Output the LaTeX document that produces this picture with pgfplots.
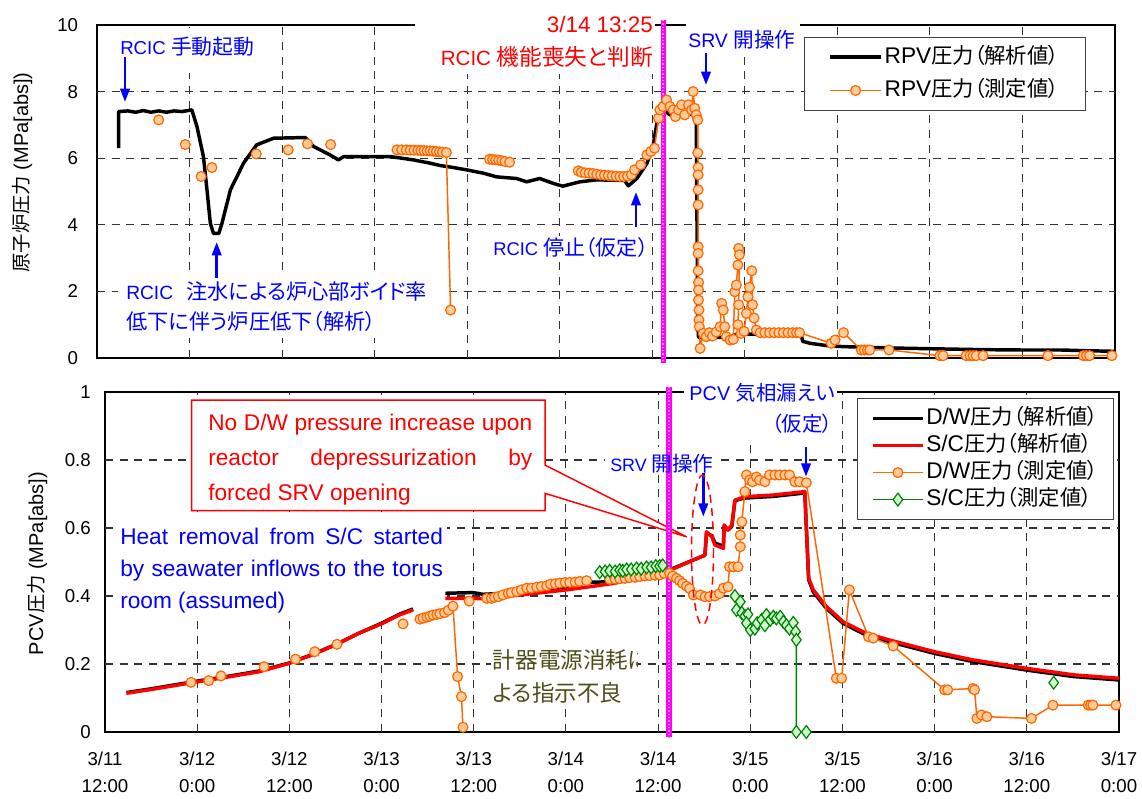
\documentclass[border=0pt]{standalone}
\usepackage{pgfplots}
\pgfplotsset{compat=1.18}
\usepackage{fontspec}
\setmainfont{Liberation Sans}
\newfontfamily\jp[RawFeature=+palt]{Noto Sans CJK JP}
\usetikzlibrary{arrows.meta}
\definecolor{orgL}{RGB}{255,102,0}
\definecolor{orgF}{RGB}{255,204,153}
\definecolor{grnL}{RGB}{0,128,0}
\definecolor{grnF}{RGB}{204,255,204}
\definecolor{mag}{RGB}{255,0,255}
\definecolor{magL}{RGB}{255,150,255}
\definecolor{olivetxt}{RGB}{77,77,26}
\definecolor{gridc}{RGB}{50,50,50}
\newcommand{\fs}[1]{\fontsize{#1}{#1}\selectfont}
\newcommand{\J}[2]{{\jp\fontsize{#1}{#1}\selectfont #2}}
\tikzset{gridl/.style={dash pattern=on 6pt off 5pt, line width=0.8pt, draw=gridc}}

\pgfplotsset{
  mybase/.style={
    scale only axis, clip=false, unbounded coords=jump,
    xmin=0, xmax=132, xtick={0,12,...,132},
    axis line style={line width=1.5pt},
    major tick length=0.1pt,
    tick label style={font=\fontsize{14}{19.7}\selectfont},
    yticklabel style={inner sep=0pt},
    legend cell align=left,
    legend image code/.code={\draw[mark repeat=2,mark phase=2,##1] plot coordinates {(0pt,0pt) (19pt,0pt) (38pt,0pt)};},
  },
  anaK/.style={black, line width=2.6pt, line join=round, mark=none},
  anaR/.style={red, line width=2.6pt, line join=round, mark=none},
  meaO/.style={orgL, line width=1.1pt, mark=*, mark size=3.7pt, mark options={fill=orgF, draw=orgL, line width=0.9pt, solid}},
  meaG/.style={grnL, line width=1pt, mark=diamond*, mark size=4.8pt, mark options={fill=grnF, draw=grnL, line width=0.9pt, solid}},
}

\begin{document}
\begin{tikzpicture}
\useasboundingbox (0pt,0pt) rectangle (856.5pt,599.25pt);

% ================= TOP: RPV pressure =================
\begin{axis}[mybase, at={(72.75pt,330.75pt)}, anchor=south west,
  width=763.5pt, height=249.75pt,
  ymin=0, ymax=10, ytick={0,2,4,6,8,10}, yticklabels={0,2,4,6,8,10},
  xticklabels={}, yticklabel shift=14pt,
  legend style={at={(rel axis cs:0.6945,0.964)}, anchor=north west,
    draw=black!75, line width=0.75pt, fill=white,
    inner xsep=18pt, inner ysep=5pt, row sep=5.5pt, font=\fs{17},
    nodes={inner sep=1.5pt, text height=13pt, text depth=3.5pt}}]
\pgfplotsinvokeforeach{12,24,36,48,60,72,84,96,108,120}{\draw[gridl] (axis cs:#1,0) -- (axis cs:#1,10);}
\pgfplotsinvokeforeach{2,4,6,8}{\draw[gridl] (axis cs:0,#1) -- (axis cs:132,#1);}
\fill[white] (axis cs:2.59,8.56) rectangle (axis cs:21.13,9.91);
\fill[white] (axis cs:2.72,2.52) rectangle (axis cs:45.37,0.60);
\fill[white] (axis cs:41.2,10.51) rectangle (axis cs:72.3,8.53);
\fill[white] (axis cs:76.35,10.09) rectangle (axis cs:91.1,9.07);
\fill[white] (axis cs:50.9,3.66) rectangle (axis cs:71.9,2.88);

\addplot[anaK] coordinates {
(2.8,6.3)(2.8,7.4)(4,7.42)(5,7.38)(6,7.43)(7,7.38)(8,7.42)(9,7.38)(10,7.42)(11,7.4)(12.3,7.45)
(12.96,6.95)(13.8,6.05)(14.26,5.05)(14.7,4.04)(15.1,3.74)(15.8,3.74)(16.2,4.04)(17.3,5.05)
(19.0,5.85)(20.7,6.40)(22.9,6.60)(27.0,6.62)(28.1,6.35)(30.2,6.10)(31.3,5.95)(32.0,6.05)
(38.0,6.05)(41.0,5.95)(43.2,5.85)(44.5,5.78)(46.2,5.72)(47.9,5.65)(50.1,5.55)(51.8,5.44)
(54.4,5.39)(55.7,5.29)(57.4,5.39)(59.2,5.24)(60.4,5.16)(62.6,5.29)(64.8,5.35)(68.4,5.33)
(68.9,5.17)(70.0,5.39)(71.3,5.84)(72.1,6.35)(72.8,7.35)(73.6,7.42)(74.3,7.30)(75.6,7.35)
(77.7,7.30)(77.8,4.0)(77.9,1.0)(78.0,0.62)(82.0,0.62)(83.0,0.72)(91.3,0.72)(91.5,0.50)
(92.5,0.44)(95.0,0.36)(97.0,0.34)(103,0.30)(110,0.27)(115,0.25)(120,0.24)(125,0.24)
(128,0.22)(132,0.20)};
\addlegendentry{RPV\J{16}{圧力（解析値）}}

\addplot[meaO] coordinates {
(8.0,7.15)(9,nan)(11.45,6.41)(12,nan)(13.5,5.45)(14,nan)(14.9,5.72)(15,nan)
(20.65,6.13)(21,nan)(24.8,6.25)(25,nan)(27.3,6.43)(28,nan)(30.3,6.41)(31,nan)
(38.9,6.25)(39.5,6.25)(40.1,6.25)(40.6,6.24)(41.1,6.24)(41.6,6.24)(42.0,6.23)(42.4,6.23)
(42.8,6.22)(43.2,6.22)(43.6,6.21)(44.0,6.20)(44.4,6.19)(44.8,6.18)(45.3,6.17)(45.85,1.44)(46,nan)
(50.9,5.97)(51.3,5.96)(51.7,5.95)(52.1,5.94)(52.5,5.92)(52.9,5.90)(53.5,5.88)(54,nan)
(62.4,5.62)(62.8,5.58)(63.3,5.56)(63.8,5.55)(64.3,5.54)(64.8,5.52)(65.3,5.50)(65.8,5.49)
(66.3,5.48)(66.8,5.47)(67.3,5.46)(67.8,5.45)(68.3,5.45)(68.8,5.46)(69.3,5.50)(69.7,5.65)
(70.5,5.80)(71.3,6.10)(71.8,6.20)(72.3,6.30)(72.8,7.20)(73.0,7.45)(73.4,7.55)(73.85,7.75)
(74.3,7.55)(74.7,7.45)(75.0,7.25)(75.4,7.45)(75.8,7.60)(76.2,7.30)(76.7,7.60)(77.1,7.45)
(77.3,8.0)(77.5,7.5)(77.7,7.3)(77.9,7.15)(77.9,6.16)(77.95,5.72)(77.95,5.5)(77.95,5.05)
(77.95,4.6)(77.95,3.34)(77.95,3.14)(77.95,2.62)(78.0,2.27)(78.0,2.04)(78.0,1.74)(78.05,1.44)
(78.05,1.14)(78.1,0.94)(78.2,0.29)(78.6,0.74)(79.0,0.64)(79.4,0.76)(79.8,0.66)(80.3,0.78)
(80.8,0.94)(81.0,1.64)(81.2,1.44)(81.4,0.94)(81.6,0.64)(82.1,0.54)(82.5,0.56)(82.7,1.99)
(82.9,2.19)(83.1,2.79)(83.2,3.29)(83.3,3.10)(83.2,1.6)(83.1,1.0)(83.5,0.74)(83.9,0.8)
(84.2,1.34)(84.4,1.84)(84.6,2.12)(84.9,2.62)(85.0,1.6)(85.2,1.2)(85.5,0.84)(86.0,0.76)
(86.6,0.76)(87.2,0.76)(87.8,0.76)(88.4,0.76)(89.0,0.76)(89.6,0.76)(90.2,0.76)(90.7,0.76)
(91.1,0.76)(95.2,0.44)(95.7,0.54)(96.8,0.76)(99.1,0.24)(99.5,0.24)(99.9,0.24)(100.2,0.24)
(102.7,0.24)(109.3,0.07)(109.7,0.07)(112.7,0.07)(113.2,0.07)(113.6,0.07)(114.0,0.07)
(114.9,0.07)(123.3,0.07)(127.9,0.07)(128.3,0.07)(128.7,0.07)(131.6,0.07)};
\addlegendentry{RPV\J{16}{圧力（測定値）}}

\draw[mag, line width=4pt] (axis cs:73.42,10.15) -- (axis cs:73.42,-0.15);
\draw[magL, line width=1.2pt, dash pattern=on 1pt off 1.5pt] (axis cs:73.42,10.15) -- (axis cs:73.42,-0.15);
\end{axis}

% ================= BOTTOM: PCV pressure =================
\begin{axis}[mybase, at={(78.75pt,50.25pt)}, anchor=south west,
  width=760.5pt, height=255pt,
  ymin=0, ymax=1, ytick={0,0.2,0.4,0.6,0.8,1}, yticklabels={0,0.2,0.4,0.6,0.8,1},
  yticklabel shift=10.5pt,
  xticklabels={{3/11\\12:00},{3/12\\0:00},{3/12\\12:00},{3/13\\0:00},{3/13\\12:00},{3/14\\0:00},{3/14\\12:00},{3/15\\0:00},{3/15\\12:00},{3/16\\0:00},{3/16\\12:00},{3/17\\0:00}},
  xticklabel style={align=center, inner sep=0pt}, xticklabel shift=15pt,
  legend style={at={(rel axis cs:0.7416,0.982)}, anchor=north west,
    draw=black!75, line width=0.75pt, fill=white,
    inner xsep=10pt, inner ysep=6pt, row sep=2.25pt, font=\fs{17},
    nodes={inner sep=1pt, text height=12.5pt, text depth=3.5pt}}]
\pgfplotsinvokeforeach{12,24,36,48,60,72,84,96,108,120}{\draw[gridl] (axis cs:#1,0) -- (axis cs:#1,1);}
\pgfplotsinvokeforeach{0.2,0.4,0.6,0.8}{\draw[gridl] (axis cs:0,#1) -- (axis cs:132,#1);}
\filldraw[fill=white, draw=red, line width=1.1pt] (axis cs:11.29,0.976) -- (axis cs:57.28,0.976) -- (axis cs:57.28,0.785) -- (axis cs:75.72,0.574) -- (axis cs:57.28,0.702) -- (axis cs:57.28,0.651) -- (axis cs:11.29,0.651) -- cycle;
\fill[white] (axis cs:1.04,0.647) rectangle (axis cs:44.52,0.341);
\fill[white] (axis cs:65.09,0.838) rectangle (axis cs:79.8,0.762);
\fill[white] (axis cs:75.37,1.041) rectangle (axis cs:95.29,0.856);
\fill[white] (axis cs:50.25,0.271) rectangle (axis cs:69.25,0.076);

\addplot[anaK] coordinates {
(2.8,0.116)(6,0.127)(12.1,0.15)(15,0.16)(20,0.179)(24,0.203)(27,0.228)(30.2,0.259)(33,0.29)
(36,0.32)(38.4,0.347)(40.1,0.362)(42,nan)(44.3,0.408)(47.9,0.41)(49.2,0.405)(54,0.41)
(60.1,0.425)(62,0.44)(66.2,0.442)(72.2,0.47)(73.6,0.478)(76.6,0.506)(78.1,0.52)(78.3,0.585)
(79.0,0.577)(79.4,0.556)(80.5,0.546)(80.6,0.605)(81.1,0.594)(81.6,0.605)(82.0,0.68)(82.7,0.685)
(83.3,0.688)(87,0.693)(91.1,0.703)(91.3,0.6)(91.6,0.448)(92.2,0.412)(93.9,0.364)(96.1,0.319)
(99.1,0.285)(102.2,0.265)(108,0.231)(113,0.207)(120,0.182)(126.1,0.163)(132,0.153)};
\addlegendentry{D/W\J{16}{圧力（解析値）}}

\addplot[anaR] coordinates {
(2.8,0.114)(6,0.125)(12.1,0.148)(15,0.158)(20,0.177)(24,0.202)(27,0.227)(30.2,0.258)(33,0.29)
(36,0.318)(38.4,0.345)(40.1,0.359)(42,nan)(44.3,0.393)(47.9,0.393)(49.2,0.392)(54,0.403)
(60.1,0.418)(66.2,0.437)(72.2,0.466)(73.6,0.476)(76.6,0.506)(78.1,0.52)(78.3,0.589)(79.0,0.574)
(79.4,0.55)(80.5,0.54)(80.6,0.609)(81.1,0.594)(81.6,0.609)(82.0,0.682)(82.7,0.687)(83.3,0.692)
(87,0.697)(91.1,0.707)(91.3,0.604)(91.6,0.452)(92.2,0.418)(93.9,0.369)(96.1,0.324)(99.1,0.29)
(102.2,0.27)(108,0.236)(113,0.212)(120,0.187)(126.1,0.168)(132,0.158)};
\addlegendentry{S/C\J{16}{圧力（解析値）}}

\addplot[meaO] coordinates {
(11.2,0.146)(11.5,nan)(13.5,0.151)(14,nan)(15.1,0.165)(15.5,nan)(20.7,0.192)(21,nan)
(24.8,0.214)(25,nan)(27.3,0.236)(28,nan)(30.2,0.258)(31,nan)(38.8,0.318)(39,nan)
(41.0,0.332)(41.4,0.335)(41.9,0.338)(42.3,0.341)(42.7,0.344)(43.2,0.346)(43.6,0.348)(44.2,0.351)
(44.7,0.358)(45.3,0.370)(45.9,0.163)(46.4,0.104)(46.6,0.014)(47,nan)(47.4,0.385)(47.6,nan)
(49.7,0.393)(50.3,0.393)(50.7,0.396)(51.2,0.398)(51.8,0.403)(52.5,0.408)(52.9,0.410)(53.6,0.413)
(54.2,0.418)(54.9,0.423)(55.5,0.423)(56.2,0.426)(56.8,0.428)(57.5,0.430)(58.0,0.435)(58.6,0.436)
(59.2,0.438)(59.9,0.440)(60.5,0.440)(61.2,0.441)(61.8,0.443)(62.7,0.445)(63,nan)
(65.7,0.449)(66.4,0.450)(67.0,0.451)(67.7,0.452)(68.3,0.454)(69.0,0.455)(69.6,0.457)(70.3,0.459)
(70.9,0.460)(71.6,0.461)(72.2,0.462)(72.8,0.467)(73.5,0.467)(73.9,0.459)(74.4,0.452)(74.8,0.445)
(75.2,0.437)(75.7,0.429)(76.1,0.422)(76.6,0.403)(77.5,0.403)(78.1,0.398)(78.7,0.398)(79.4,0.400)
(80.0,0.407)(80.5,0.423)(81.1,0.427)(81.3,0.486)(81.8,0.486)(82.4,0.486)(82.7,0.545)(82.7,0.579)
(82.9,0.618)(83.3,0.707)(83.5,0.756)(83.9,0.741)(84.3,0.736)(84.8,0.750)(85.2,0.741)(85.9,0.736)
(86.5,0.756)(87.2,0.756)(87.8,0.756)(88.5,0.756)(89.1,0.756)(89.8,0.736)(90.4,0.736)(91.3,0.733)
(95.2,0.158)(95.9,0.158)(96.9,0.418)(99.4,0.280)(100.0,0.276)(102.6,0.253)(109.3,0.124)
(109.7,0.124)(113.0,0.128)(113.2,0.124)(113.5,0.040)(114.1,0.050)(114.8,0.045)(120.6,0.040)
(123.4,0.079)(128.0,0.079)(128.3,0.079)(128.6,0.079)(131.6,0.079)};
\addlegendentry{D/W\J{16}{圧力（測定値）}}

\addplot[meaG] coordinates {
(64.4,0.470)(65.1,0.472)(65.7,0.474)(66.4,0.472)(67.0,0.476)(67.4,0.474)(67.9,0.478)(68.5,0.478)
(69.2,0.481)(69.8,0.480)(70.5,0.484)(71.1,0.484)(71.7,0.488)(72.2,0.488)(72.6,0.490)(73,nan)
(82.0,0.400)(82.7,0.383)(82.2,0.359)(82.9,0.35)(83.3,0.341)(83.7,0.346)(83.5,0.32)(84.0,0.30)
(84.6,0.304)(84.9,0.32)(85.5,0.33)(85.9,0.314)(86.1,0.344)(86.6,0.330)(87.0,0.339)(87.4,0.334)
(87.9,0.339)(88.3,0.324)(88.7,0.314)(89.1,0.304)(89.6,0.321)(89.9,0.295)(90.0,0.271)(90.0,0.0)
(91.3,0.0)(92,nan)(123.5,0.145)};
\addlegendentry{S/C\J{16}{圧力（測定値）}}

\draw[mag, line width=4pt] (axis cs:73.42,1.015) -- (axis cs:73.42,-0.015);
\draw[magL, line width=1.2pt, dash pattern=on 1pt off 1.5pt] (axis cs:73.42,1.015) -- (axis cs:73.42,-0.015);
\end{axis}

% ================= annotations (pixel coordinates, y downward) =================
\begin{scope}[x=0.75pt, y=-0.75pt, shift={(0pt,599.25pt)}]
% axis titles
\node[rotate=90, inner sep=0] at (22,172.5) {\fs{15}\J{14.5}{原子炉圧力} (MPa[abs])};
\node[rotate=90, inner sep=0] at (37,563.5) {\fs{15}PCV\J{14.5}{圧力} (MPa[abs])};

% top panel
\node[anchor=west, text=blue, inner sep=0] at (120,46.7) {\fs{14}RCIC \J{15.6}{手動起動}};
\draw[blue, line width=2pt, -{Triangle[length=10pt,width=7pt]}] (125,57) -- (125,102);
\node[anchor=west, text=blue, inner sep=0] at (126,291.7) {\fs{14.4}RCIC\hspace{10pt}\J{15.9}{注水による炉心部ボイド率}};
\node[anchor=west, text=blue, inner sep=0] at (126,321.7) {\J{15.9}{低下に伴う炉圧低下（解析）}};
\draw[blue, line width=2pt, -{Triangle[length=10pt,width=7pt]}] (216.7,278) -- (216.7,242);
\node[anchor=east, text=red, inner sep=0] at (653,25) {\fs{16.8}3/14 13:25};
\node[anchor=east, text=red, inner sep=0] at (653,56.7) {\fs{15.4}RCIC \J{17}{機能喪失と判断}};
\node[anchor=west, text=blue, inner sep=0] at (688,40) {\fs{14.6}SRV \J{15.5}{開操作}};
\draw[blue, line width=2pt, -{Triangle[length=10pt,width=7pt]}] (706,53) -- (706,85);
\node[anchor=west, text=blue, inner sep=0] at (493,248) {\fs{13.8}RCIC \J{15.75}{停止（仮定）}};
\draw[blue, line width=2pt, -{Triangle[length=10pt,width=7pt]}] (636,227) -- (636,192);

% bottom panel
\node[anchor=base west, text=red, inner sep=0, text width=243pt, align=justify,
  font=\fontsize{17}{26.2}\selectfont] at (208,431)
  {\tolerance=9999 No D/W pressure increase upon\linebreak reactor depressurization by\linebreak forced SRV opening};
\node[anchor=base west, text=blue, inner sep=0, text width=242pt, align=justify,
  font=\fontsize{17}{24}\selectfont] at (120,544.5)
  {\tolerance=9999 Heat removal from S/C started\linebreak by seawater inflows to the torus\linebreak room (assumed)};
\node[anchor=west, text=blue, inner sep=0] at (610,463.3) {\fs{13.4}SRV \J{15.5}{開操作}};
\draw[blue, line width=2pt, -{Triangle[length=10pt,width=7pt]}] (703.3,473) -- (703.3,516.7);
\draw[red, line width=1.1pt, dash pattern=on 6pt off 4pt] (702.5,550) ellipse [x radius=11, y radius=75];
\node[anchor=east, text=blue, inner sep=0] at (835,393.3) {\fs{14.9}PCV \J{15.3}{気相漏えい}};
\node[anchor=east, text=blue, inner sep=0] at (833,423.3) {\J{15.3}{（仮定）}};
\draw[blue, line width=2pt, -{Triangle[length=10pt,width=7pt]}] (806,446.7) -- (806,476.7);
\begin{scope}
\clip (488,630) rectangle (637,715);
\node[anchor=west, text=olivetxt, inner sep=0, align=left,
  font=\jp\fontsize{16.9}{25}\selectfont] at (492.7,676.7) {計器電源消耗に\\よる指示不良};
\end{scope}
\end{scope}
\end{tikzpicture}
\end{document}
